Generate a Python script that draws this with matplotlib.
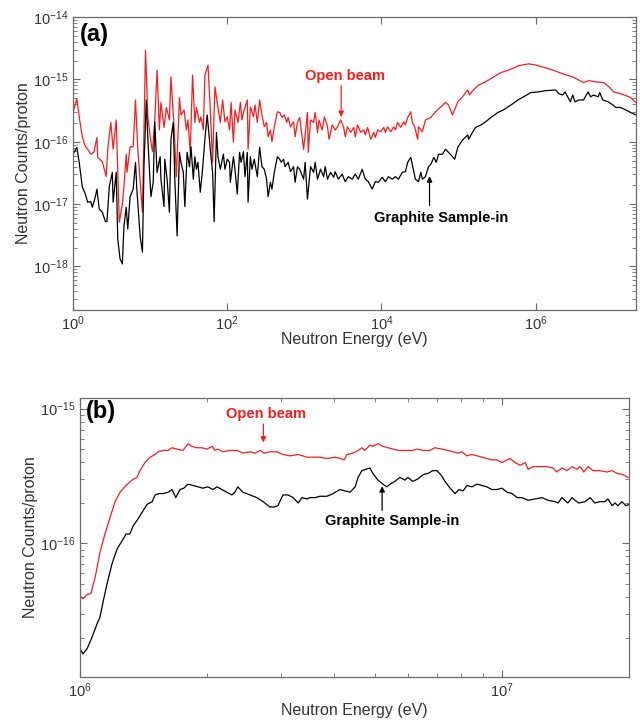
import numpy as np
import matplotlib
matplotlib.use("Agg")
import matplotlib.pyplot as plt
from matplotlib.ticker import LogLocator, NullLocator, NullFormatter, LogFormatterSciNotation, FixedLocator

plt.rcParams['font.family'] = ['Liberation Sans', 'DejaVu Sans']
plt.rcParams['mathtext.fontset'] = 'custom'
plt.rcParams['mathtext.rm'] = 'Liberation Sans'
plt.rcParams['mathtext.it'] = 'Liberation Sans:italic'
plt.rcParams['mathtext.bf'] = 'Liberation Sans:bold'
plt.rcParams['mathtext.default'] = 'regular'

# ---------------- Panel (a) data: log10(energy / eV), log10(counts per proton)
open_a_logE = [
    0.00, 0.05, 0.08, 0.12, 0.16, 0.19, 0.23, 0.27, 0.31, 0.32,
    0.38, 0.43, 0.45, 0.49, 0.52, 0.56, 0.60, 0.64, 0.66, 0.69,
    0.70, 0.74, 0.78, 0.81, 0.84, 0.90, 0.94, 0.97, 1.00, 1.03,
    1.06, 1.09, 1.12, 1.14, 1.18, 1.21, 1.25, 1.27, 1.31, 1.34,
    1.38, 1.40, 1.44, 1.47, 1.49, 1.52, 1.55, 1.58, 1.60, 1.64,
    1.66, 1.69, 1.71, 1.75, 1.78, 1.81, 1.84, 1.87, 1.91, 1.94,
    1.97, 2.00, 2.03, 2.05, 2.08, 2.10, 2.14, 2.17, 2.19, 2.22,
    2.26, 2.27, 2.30, 2.34, 2.36, 2.39, 2.42, 2.45, 2.48, 2.51,
    2.53, 2.56, 2.58, 2.61, 2.65, 2.68, 2.71, 2.74, 2.77, 2.79,
    2.82, 2.86, 2.88, 2.91, 2.94, 2.99, 3.04, 3.05, 3.08, 3.12,
    3.14, 3.17, 3.19, 3.23, 3.26, 3.30, 3.32, 3.36, 3.40, 3.43,
    3.47, 3.51, 3.53, 3.56, 3.60, 3.64, 3.66, 3.69, 3.73, 3.77,
    3.79, 3.82, 3.86, 3.90, 3.92, 3.95, 3.99, 4.03, 4.05, 4.08,
    4.12, 4.16, 4.18, 4.21, 4.25, 4.29, 4.31, 4.34, 4.38, 4.40,
    4.43, 4.47, 4.48, 4.53, 4.57, 4.64, 4.70, 4.77, 4.83, 4.87,
    4.92, 4.99, 5.05, 5.12, 5.14, 5.19, 5.26, 5.35, 5.44, 5.55,
    5.65, 5.78, 5.91, 6.00, 6.09, 6.22, 6.35, 6.48, 6.62, 6.69,
    6.78, 6.88, 6.95, 7.01, 7.10, 7.17, 7.23, 7.30]
open_a_logC = [
    -15.53, -15.31, -15.60, -15.92, -16.08, -16.12, -16.20, -16.17, -15.93, -16.25,
    -16.32, -16.56, -16.12, -15.69, -16.12, -15.65, -17.29, -17.00, -16.72, -16.20,
    -16.49, -16.08, -16.08, -15.33, -16.12, -17.13, -14.53, -15.60, -15.92, -16.16,
    -15.65, -14.85, -15.81, -15.37, -15.77, -15.45, -15.65, -14.96, -15.76, -16.56,
    -15.29, -15.57, -15.49, -15.81, -15.65, -16.17, -14.93, -15.69, -15.45, -15.69,
    -15.60, -15.81, -14.93, -14.77, -15.49, -16.33, -15.12, -15.37, -15.69, -15.33,
    -15.68, -15.60, -15.81, -15.37, -16.01, -15.49, -15.69, -15.37, -15.65, -15.49,
    -15.33, -16.12, -15.44, -15.60, -15.41, -15.69, -15.33, -15.57, -15.76, -15.69,
    -15.92, -15.81, -16.00, -15.76, -15.52, -15.53, -15.61, -15.57, -15.69, -15.61,
    -15.76, -15.68, -15.92, -15.69, -15.61, -16.12, -15.53, -16.17, -15.65, -15.69,
    -15.53, -15.85, -15.65, -15.81, -15.60, -15.76, -15.96, -15.73, -15.81, -15.76,
    -15.65, -15.77, -15.92, -15.76, -15.85, -15.77, -15.92, -15.73, -15.85, -15.81,
    -15.89, -15.77, -15.96, -15.85, -15.93, -15.81, -15.84, -15.77, -15.85, -15.76,
    -15.84, -15.76, -15.81, -15.69, -15.77, -15.68, -15.73, -15.61, -15.52, -15.69,
    -15.76, -15.96, -15.76, -15.84, -15.65, -15.61, -15.52, -15.44, -15.37, -15.41,
    -15.57, -15.36, -15.28, -15.17, -15.25, -15.17, -15.09, -15.04, -14.97, -14.89,
    -14.85, -14.78, -14.75, -14.77, -14.80, -14.85, -14.91, -14.96, -15.05, -15.02,
    -15.04, -15.05, -15.12, -15.20, -15.23, -15.26, -15.29, -15.37]

graphite_a_logE = [
    0.00, 0.05, 0.08, 0.12, 0.16, 0.19, 0.23, 0.25, 0.29, 0.31,
    0.34, 0.38, 0.42, 0.44, 0.47, 0.51, 0.52, 0.56, 0.58, 0.61,
    0.64, 0.66, 0.69, 0.71, 0.74, 0.78, 0.81, 0.83, 0.87, 0.90,
    0.92, 0.95, 0.97, 1.01, 1.04, 1.06, 1.09, 1.13, 1.14, 1.18,
    1.19, 1.22, 1.25, 1.27, 1.30, 1.32, 1.35, 1.38, 1.40, 1.43,
    1.45, 1.48, 1.51, 1.53, 1.56, 1.58, 1.60, 1.62, 1.65, 1.68,
    1.71, 1.74, 1.78, 1.81, 1.83, 1.86, 1.88, 1.91, 1.95, 1.97,
    2.00, 2.03, 2.04, 2.08, 2.10, 2.13, 2.16, 2.18, 2.21, 2.23,
    2.26, 2.27, 2.30, 2.32, 2.35, 2.39, 2.42, 2.45, 2.48, 2.51,
    2.53, 2.56, 2.58, 2.61, 2.65, 2.68, 2.70, 2.73, 2.75, 2.79,
    2.82, 2.86, 2.88, 2.91, 2.94, 2.99, 3.01, 3.04, 3.08, 3.12,
    3.14, 3.17, 3.21, 3.25, 3.27, 3.30, 3.34, 3.38, 3.40, 3.44,
    3.49, 3.53, 3.57, 3.62, 3.66, 3.70, 3.75, 3.79, 3.83, 3.88,
    3.92, 3.96, 4.01, 4.05, 4.09, 4.14, 4.18, 4.22, 4.27, 4.31,
    4.34, 4.38, 4.42, 4.44, 4.48, 4.51, 4.53, 4.57, 4.61, 4.64,
    4.68, 4.71, 4.74, 4.79, 4.83, 4.87, 4.92, 4.95, 4.99, 5.03,
    5.06, 5.12, 5.13, 5.18, 5.22, 5.29, 5.35, 5.42, 5.51, 5.58,
    5.68, 5.77, 5.84, 5.94, 6.04, 6.13, 6.26, 6.30, 6.35, 6.38,
    6.42, 6.45, 6.48, 6.51, 6.56, 6.62, 6.68, 6.71, 6.75, 6.81,
    6.83, 6.87, 6.94, 7.00, 7.04, 7.10, 7.17, 7.23, 7.30]
graphite_a_logC = [
    -16.20, -16.09, -16.33, -16.72, -16.84, -16.97, -16.96, -17.05, -16.88, -16.76,
    -17.08, -17.13, -17.28, -17.28, -16.72, -16.49, -16.97, -16.49, -17.56, -17.88,
    -17.96, -17.36, -17.05, -17.40, -16.88, -16.76, -16.33, -16.81, -17.51, -17.77,
    -16.40, -15.33, -15.96, -16.88, -16.65, -15.68, -16.49, -16.24, -16.60, -17.04,
    -16.28, -16.60, -17.13, -15.96, -15.69, -16.60, -17.51, -16.17, -16.33, -16.49,
    -17.04, -16.17, -16.40, -16.08, -16.60, -16.24, -16.44, -16.33, -16.81, -16.44,
    -15.96, -15.57, -16.12, -16.49, -17.28, -15.85, -16.24, -16.44, -16.20, -16.44,
    -16.28, -16.33, -16.65, -16.24, -16.44, -16.84, -16.17, -16.33, -16.16, -16.56,
    -16.17, -16.97, -16.24, -16.44, -16.28, -16.56, -16.09, -16.40, -16.44, -16.60,
    -16.88, -16.65, -16.76, -16.49, -16.24, -16.28, -16.33, -16.28, -16.40, -16.33,
    -16.48, -16.40, -16.65, -16.40, -16.44, -16.60, -16.33, -16.92, -16.40, -16.49,
    -16.33, -16.60, -16.44, -16.56, -16.40, -16.60, -16.49, -16.57, -16.48, -16.60,
    -16.52, -16.64, -16.56, -16.60, -16.52, -16.60, -16.44, -16.60, -16.64, -16.76,
    -16.64, -16.65, -16.57, -16.64, -16.56, -16.60, -16.56, -16.60, -16.49, -16.48,
    -16.33, -16.25, -16.48, -16.60, -16.64, -16.49, -16.60, -16.56, -16.40, -16.36,
    -16.25, -16.33, -16.20, -16.20, -16.12, -16.17, -16.24, -16.28, -16.09, -16.01,
    -15.96, -15.89, -15.96, -15.85, -15.77, -15.73, -15.68, -15.61, -15.53, -15.49,
    -15.41, -15.33, -15.28, -15.21, -15.20, -15.18, -15.17, -15.23, -15.25, -15.20,
    -15.29, -15.36, -15.25, -15.36, -15.33, -15.33, -15.20, -15.28, -15.25, -15.28,
    -15.21, -15.33, -15.36, -15.41, -15.45, -15.45, -15.49, -15.53, -15.57]

# ---------------- Panel (b) data
open_b_logE = [
    6.000, 6.007, 6.017, 6.026, 6.036, 6.047, 6.059, 6.071, 6.083, 6.095,
    6.109, 6.123, 6.135, 6.142, 6.154, 6.166, 6.178, 6.185, 6.197, 6.209,
    6.218, 6.230, 6.244, 6.256, 6.265, 6.277, 6.289, 6.301, 6.313, 6.320,
    6.327, 6.339, 6.355, 6.372, 6.386, 6.403, 6.415, 6.427, 6.436, 6.450,
    6.467, 6.481, 6.498, 6.517, 6.538, 6.557, 6.569, 6.585, 6.604, 6.618,
    6.626, 6.633, 6.647, 6.659, 6.668, 6.675, 6.687, 6.694, 6.706, 6.718,
    6.730, 6.742, 6.754, 6.770, 6.787, 6.799, 6.813, 6.829, 6.841, 6.858,
    6.872, 6.884, 6.896, 6.905, 6.917, 6.929, 6.941, 6.953, 6.964, 6.976,
    6.988, 7.000, 7.012, 7.019, 7.031, 7.043, 7.055, 7.062, 7.073, 7.090,
    7.107, 7.121, 7.130, 7.142, 7.154, 7.166, 7.178, 7.185, 7.194, 7.204,
    7.216, 7.232, 7.249, 7.261, 7.273, 7.287, 7.299]
open_b_logC = [
    -16.39, -16.41, -16.38, -16.37, -16.25, -16.07, -15.93, -15.81, -15.69, -15.62,
    -15.57, -15.53, -15.51, -15.46, -15.40, -15.36, -15.34, -15.32, -15.31, -15.31,
    -15.29, -15.30, -15.31, -15.26, -15.28, -15.29, -15.29, -15.30, -15.28, -15.31,
    -15.30, -15.32, -15.31, -15.31, -15.33, -15.32, -15.33, -15.31, -15.33, -15.32,
    -15.32, -15.34, -15.35, -15.34, -15.36, -15.36, -15.36, -15.37, -15.36, -15.37,
    -15.38, -15.34, -15.33, -15.31, -15.29, -15.31, -15.27, -15.28, -15.26, -15.28,
    -15.29, -15.30, -15.31, -15.31, -15.31, -15.30, -15.31, -15.31, -15.29, -15.30,
    -15.31, -15.32, -15.33, -15.32, -15.35, -15.34, -15.35, -15.36, -15.37, -15.38,
    -15.38, -15.40, -15.38, -15.37, -15.40, -15.42, -15.40, -15.45, -15.43, -15.43,
    -15.43, -15.44, -15.47, -15.44, -15.46, -15.43, -15.45, -15.43, -15.47, -15.43,
    -15.46, -15.46, -15.47, -15.46, -15.48, -15.49, -15.51]

graphite_b_logE = [
    6.000, 6.007, 6.017, 6.028, 6.040, 6.047, 6.055, 6.064, 6.076, 6.088,
    6.100, 6.109, 6.118, 6.126, 6.135, 6.147, 6.159, 6.171, 6.178, 6.187,
    6.197, 6.209, 6.218, 6.227, 6.237, 6.246, 6.256, 6.268, 6.280, 6.291,
    6.303, 6.315, 6.325, 6.336, 6.348, 6.360, 6.367, 6.374, 6.386, 6.403,
    6.419, 6.434, 6.450, 6.460, 6.469, 6.481, 6.493, 6.505, 6.517, 6.526,
    6.538, 6.545, 6.557, 6.569, 6.585, 6.600, 6.616, 6.628, 6.640, 6.652,
    6.659, 6.668, 6.678, 6.687, 6.694, 6.706, 6.718, 6.727, 6.735, 6.746,
    6.758, 6.770, 6.777, 6.789, 6.801, 6.813, 6.825, 6.836, 6.846, 6.855,
    6.865, 6.877, 6.889, 6.898, 6.908, 6.917, 6.929, 6.941, 6.953, 6.964,
    6.976, 6.988, 7.000, 7.012, 7.024, 7.036, 7.047, 7.062, 7.078, 7.095,
    7.109, 7.126, 7.133, 7.142, 7.149, 7.156, 7.166, 7.173, 7.182, 7.197,
    7.209, 7.220, 7.232, 7.244, 7.251, 7.261, 7.268, 7.275, 7.284, 7.294,
    7.301]
graphite_b_logC = [
    -16.78, -16.82, -16.78, -16.70, -16.60, -16.55, -16.43, -16.30, -16.15, -16.04,
    -15.98, -15.93, -15.93, -15.87, -15.83, -15.77, -15.71, -15.69, -15.64, -15.63,
    -15.63, -15.62, -15.60, -15.66, -15.60, -15.59, -15.56, -15.57, -15.58, -15.59,
    -15.58, -15.60, -15.58, -15.60, -15.62, -15.64, -15.62, -15.58, -15.62, -15.64,
    -15.66, -15.69, -15.73, -15.73, -15.72, -15.64, -15.64, -15.66, -15.70, -15.66,
    -15.67, -15.66, -15.66, -15.65, -15.65, -15.63, -15.60, -15.61, -15.62, -15.58,
    -15.51, -15.46, -15.45, -15.44, -15.48, -15.53, -15.56, -15.58, -15.56, -15.54,
    -15.51, -15.53, -15.51, -15.54, -15.52, -15.49, -15.48, -15.46, -15.46, -15.49,
    -15.54, -15.59, -15.63, -15.60, -15.61, -15.57, -15.58, -15.56, -15.57, -15.58,
    -15.60, -15.60, -15.59, -15.62, -15.63, -15.66, -15.66, -15.68, -15.67, -15.66,
    -15.68, -15.69, -15.70, -15.66, -15.68, -15.70, -15.66, -15.68, -15.70, -15.69,
    -15.66, -15.70, -15.69, -15.69, -15.67, -15.72, -15.70, -15.72, -15.69, -15.72,
    -15.71]

xlabel_text = "Neutron Energy (eV)"
ylabel_text = "Neutron Counts/proton"
open_label = "Open beam"
graphite_label = "Graphite Sample-in"


def series(logE, logC):
    n = min(len(logE), len(logC))
    return 10.0 ** np.asarray(logE[:n]), 10.0 ** np.asarray(logC[:n])


spine_col = "#6b6b6b"
text_col = "#333333"
red = "#ff1a1a"

fig = plt.figure(figsize=(6.4, 7.2), dpi=100)
ax_a = fig.add_axes([0.1141, 0.5694, 0.8797, 0.4069])
ax_b = fig.add_axes([0.1250, 0.0597, 0.8578, 0.3875])

for ax in (ax_a, ax_b):
    ax.set_xscale('log')
    ax.set_yscale('log')
    for s in ax.spines.values():
        s.set_color(spine_col)
        s.set_linewidth(0.9)
    ax.tick_params(which='both', direction='in', top=True, right=True,
                   colors=spine_col, labelcolor=text_col, labelsize=10.5)
    ax.tick_params(which='major', length=5, width=0.8)
    ax.tick_params(which='minor', length=3, width=0.6)

# ---- panel (a)
E, C = series(open_a_logE, open_a_logC)
ax_a.plot(E, C, color=red, lw=0.9)
E, C = series(graphite_a_logE, graphite_a_logC)
ax_a.plot(E, C, color='black', lw=0.9)
ax_a.set_xlim(1, 2e7)
ax_a.set_ylim(2e-19, 1e-14)
ax_a.xaxis.set_major_locator(FixedLocator([1, 1e2, 1e4, 1e6]))
ax_a.xaxis.set_major_formatter(LogFormatterSciNotation())
ax_a.xaxis.set_minor_locator(NullLocator())
ax_a.yaxis.set_major_locator(FixedLocator([1e-18, 1e-17, 1e-16, 1e-15, 1e-14]))
ax_a.yaxis.set_major_formatter(LogFormatterSciNotation())
ax_a.yaxis.set_minor_locator(LogLocator(base=10, subs=np.arange(2, 10), numticks=30))
ax_a.yaxis.set_minor_formatter(NullFormatter())
ax_a.set_xlabel(xlabel_text, fontsize=11.5, color=text_col, labelpad=-1)
ax_a.set_ylabel(ylabel_text, fontsize=11.5, color=text_col, labelpad=1)
ax_a.text(0.012, 0.94, "(a)", transform=ax_a.transAxes, fontsize=17,
          fontweight='bold', ha='left', va='center', color='black')
ax_a.text(3.4e3, 1.14e-15, open_label, color=red, fontsize=10.5,
          fontweight='bold', ha='center', va='center')
ax_a.annotate('', xy=(3.0e3, 2.5e-16), xytext=(3.0e3, 7.9e-16),
              arrowprops=dict(arrowstyle='-|>', color=red, lw=0.9,
                              mutation_scale=8, shrinkA=0, shrinkB=0))
ax_a.text(5.9e4, 5.9e-18, graphite_label, color='black', fontsize=10.5,
          fontweight='bold', ha='center', va='center')
ax_a.annotate('', xy=(4.2e4, 2.8e-17), xytext=(4.2e4, 9.5e-18),
              arrowprops=dict(arrowstyle='-|>', color='black', lw=0.9,
                              mutation_scale=8, shrinkA=0, shrinkB=0))

# ---- panel (b)
E, C = series(open_b_logE, open_b_logC)
ax_b.plot(E, C, color=red, lw=0.9)
E, C = series(graphite_b_logE, graphite_b_logC)
ax_b.plot(E, C, color='black', lw=0.9)
ax_b.set_xlim(1e6, 2e7)
ax_b.set_ylim(1.02e-17, 1.2e-15)
ax_b.xaxis.set_major_locator(FixedLocator([1e6, 1e7]))
ax_b.xaxis.set_major_formatter(LogFormatterSciNotation())
ax_b.xaxis.set_minor_locator(LogLocator(base=10, subs=np.arange(2, 10), numticks=30))
ax_b.xaxis.set_minor_formatter(NullFormatter())
ax_b.yaxis.set_major_locator(FixedLocator([1e-16, 1e-15]))
ax_b.yaxis.set_major_formatter(LogFormatterSciNotation())
ax_b.yaxis.set_minor_locator(LogLocator(base=10, subs=np.arange(2, 10), numticks=30))
ax_b.yaxis.set_minor_formatter(NullFormatter())
ax_b.set_xlabel(xlabel_text, fontsize=11.5, color=text_col, labelpad=2)
ax_b.set_ylabel(ylabel_text, fontsize=11.5, color=text_col, labelpad=1)
ax_b.text(0.01, 0.95, "(b)", transform=ax_b.transAxes, fontsize=17,
          fontweight='bold', ha='left', va='center', color='black')
ax_b.text(2.76e6, 9.2e-16, open_label, color=red, fontsize=10.5,
          fontweight='bold', ha='center', va='center')
ax_b.annotate('', xy=(2.72e6, 5.6e-16), xytext=(2.72e6, 7.7e-16),
              arrowprops=dict(arrowstyle='-|>', color=red, lw=0.9,
                              mutation_scale=8, shrinkA=0, shrinkB=0))
ax_b.text(5.48e6, 1.46e-16, graphite_label, color='black', fontsize=10.5,
          fontweight='bold', ha='center', va='center')
ax_b.annotate('', xy=(5.2e6, 2.66e-16), xytext=(5.2e6, 1.76e-16),
              arrowprops=dict(arrowstyle='-|>', color='black', lw=0.9,
                              mutation_scale=8, shrinkA=0, shrinkB=0))

fig.savefig("out.png", dpi=100)
